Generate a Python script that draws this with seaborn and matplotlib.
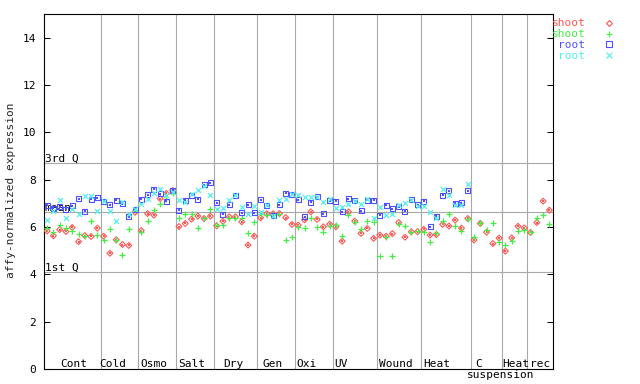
import matplotlib
matplotlib.use("Agg")
import numpy as np
import pandas as pd
import matplotlib.pyplot as plt
from matplotlib.lines import Line2D
import seaborn as sns

# ---------------- data ----------------
group_labels = ["Cont", "Cold", "Osmo", "Salt", "Dry", "Gen", "Oxi", "UV",
                "Wound", "Heat", "C", "Heat", "rec"]
group_sizes = [9, 6, 6, 6, 7, 6, 6, 7, 7, 8, 5, 4, 4]
label_pos = [4.78, 10.99, 17.52, 23.57, 30.10, 36.39, 41.88, 47.29,
             56.05, 62.58, 69.27, 75.12, 79.08]
sub_label = "suspension"
sub_label_pos = 72.77

quartile_names = ["1st Q", "mean", "3rd Q"]
quartile_values = [4.09, 6.62, 8.69]

series_names = ["shoot", "shoot", "root", "root"]

shoot_a = [5.83, 5.63, 5.89, 5.81, 5.98, 5.38, 5.64, 5.60, 5.95,
           5.61, 4.89, 5.46, 5.26, 5.22, 6.62,
           5.85, 6.57, 6.50, 7.20, 7.42, 7.54,
           6.02, 6.15, 6.33, 6.46, 6.36, 6.46,
           6.05, 6.24, 6.43, 6.43, 6.22, 5.24, 5.61,
           6.39, 6.56, 6.56, 6.57, 6.40, 6.11,
           6.08, 6.30, 6.64, 6.32, 6.01, 6.12,
           6.01, 5.40, 6.64, 6.25, 5.73, 5.94, 5.52,
           5.66, 5.61, 5.72, 6.19, 5.57, 5.80, 5.80,
           5.90, 5.66, 5.68, 6.11, 6.04, 6.29, 5.95, 6.36,
           5.45, 6.15, 5.78, 5.30, 5.53,
           4.98, 5.54, 6.03, 5.96,
           5.77, 6.19, 7.09, 6.71]

shoot_b = [5.97, 5.79, 6.08, 5.95, 5.83, 5.72, 5.64, 6.25, 5.65,
           5.44, 5.90, 5.45, 4.81, 5.90, 6.72,
           5.80, 6.24, 6.71, 6.99, 7.20, 7.45,
           6.38, 6.53, 6.57, 5.94, 6.39, 6.75,
           6.08, 6.08, 6.39, 6.39, 6.36, 5.73, 6.22,
           6.54, 6.50, 6.52, 6.56, 5.47, 5.59,
           5.98, 5.94, 6.36, 5.98, 5.80, 6.04,
           6.08, 5.63, 6.50, 6.22, 5.90, 6.27, 6.23,
           4.79, 5.58, 4.79, 6.11, 6.05, 5.80, 5.85,
           5.80, 5.38, 5.75, 6.25, 6.53, 6.03, 5.82, 6.33,
           5.58, 6.18, 5.87, 6.18, 5.38,
           5.23, 5.40, 5.82, 5.87,
           5.77, 6.40, 6.50, 6.11]

root_a = [6.92, 6.80, 6.86, 6.75, 6.90, 7.20, 6.67, 7.17, 7.24,
          7.09, 6.95, 7.13, 6.98, 6.44, 6.74,
          7.17, 7.37, 7.59, 7.41, 7.08, 7.55,
          6.71, 7.13, 7.35, 7.17, 7.79, 7.88,
          7.03, 6.53, 6.95, 7.34, 6.61, 6.95, 6.61,
          7.16, 6.90, 6.47, 6.95, 7.42, 7.39,
          7.16, 6.43, 7.04, 7.27, 6.57, 7.11,
          7.09, 6.64, 7.20, 7.11, 6.69, 7.12, 7.12,
          6.50, 6.92, 6.78, 6.85, 6.67, 7.16, 6.95,
          7.09, 6.02, 6.45, 7.34, 7.54, 7.00, 7.03, 7.54]

root_b = [6.28, 6.66, 7.13, 6.40, 6.78, 6.57, 7.30, 7.30, 6.66,
          7.09, 6.68, 6.24, 7.05, 6.57, 6.74,
          6.99, 7.20, 7.45, 7.59, 7.35, 7.50,
          7.13, 7.06, 7.41, 7.55, 7.74, 7.34,
          6.75, 6.81, 7.13, 7.34, 6.85, 6.57, 6.90,
          6.64, 6.92, 6.47, 7.13, 7.18, 7.39,
          7.35, 7.25, 7.25, 7.27, 7.04, 7.18,
          6.82, 6.85, 6.99, 7.11, 6.97, 7.20, 6.40,
          6.83, 6.50, 6.54, 6.92, 7.00, 7.16, 6.90,
          6.90, 6.64, 6.40, 7.62, 7.34, 6.92, 6.95, 7.83]

# ---------------- style ----------------
colors = ["#ff5555", "#44ee44", "#5050ff", "#55eeee"]
markers = ["D", "+", "s", "x"]
sizes = [9, 17, 13, 13]
filled = [True, False, True, False]

sns.set_theme(style="white")
plt.rcParams["font.family"] = ["DejaVu Sans Mono", "DejaVu Sans"]
plt.rcParams["font.size"] = 8

fig = plt.figure(figsize=(6.4, 3.84), dpi=100)
ax = fig.add_axes([44 / 640, 15 / 384, 508.5 / 640, 355 / 384])

n_total = sum(group_sizes)
ax.set_xlim(0, n_total)
ax.set_ylim(0, 15)

# separators and quartile lines
for b in np.cumsum(group_sizes)[:-1]:
    ax.axvline(b, color="#a8a8a8", lw=0.8, zorder=1)
for qv, qn in zip(quartile_values, quartile_names):
    ax.axhline(qv, color="#a8a8a8", lw=0.8, zorder=1)
    ax.text(0.1, qv + 0.07, qn, ha="left", va="baseline", fontsize=8,
            color="black", zorder=2)

# points
series_values = [shoot_a, shoot_b, root_a, root_b]
for vals, col, mk, sz, fl in zip(series_values, colors, markers, sizes, filled):
    df = pd.DataFrame({"x": np.arange(len(vals)) + 0.5, "value": vals})
    kw = dict(data=df, x="x", y="value", ax=ax, legend=False, marker=mk,
              s=sz, color=col, zorder=3)
    if fl:
        sns.scatterplot(edgecolor=col, facecolor="none", linewidth=0.8, **kw)
        sns.scatterplot(data=df, x="x", y="value", ax=ax, legend=False,
                        marker="s", s=1.0, color=col, edgecolor=col,
                        linewidth=0, zorder=3)
    else:
        sns.scatterplot(linewidth=0.9, **kw)

# group labels
for lab, pos in zip(group_labels, label_pos):
    ax.text(pos, 0.1, lab, ha="center", va="baseline", fontsize=8, color="black")
ax.text(sub_label_pos, -0.4, sub_label, ha="center", va="baseline",
        fontsize=8, color="black", clip_on=False)

# axes
ax.set_xticks([])
ax.set_yticks(range(0, 15, 2))
ax.tick_params(axis="y", direction="in", length=4.3, width=0.75,
               left=True, right=True, labelleft=True, labelright=False,
               labelsize=8, pad=5.5, colors="black")
for sp in ax.spines.values():
    sp.set_color("black")
    sp.set_linewidth(0.8)
    sp.set_visible(True)
ax.set_xlabel("")
ax.set_ylabel("")
fig.text(11.5 / 640, 1 - 190 / 384, "affy-normalized expression",
         rotation=90, ha="center", va="center", fontsize=8)

# legend
handles = []
for col, mk, sz, fl in zip(colors, markers, sizes, filled):
    handles.append(Line2D([0], [0], marker=mk, ls="none", color=col,
                          markeredgecolor=col,
                          markerfacecolor="none" if fl else col,
                          markersize=np.sqrt(sz), markeredgewidth=0.8))
leg = ax.legend(handles, series_names, markerfirst=False, frameon=False,
                loc="upper right", bbox_to_anchor=(621 / 640, 1 - 18.5 / 384),
                bbox_transform=fig.transFigure, borderpad=0, borderaxespad=0,
                handletextpad=1.0, handlelength=2.2, labelspacing=0.08,
                prop={"family": "DejaVu Sans Mono", "size": 8})
for t, col in zip(leg.get_texts(), colors):
    t.set_color(col)

fig.savefig("out.png", dpi=100)
